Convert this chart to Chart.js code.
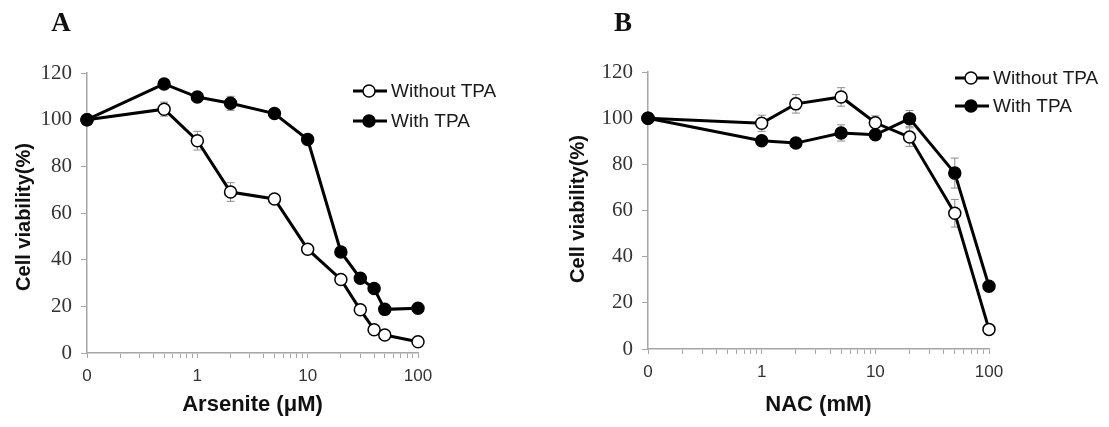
<!DOCTYPE html>
<html>
<head>
<meta charset="utf-8">
<script src="https://cdn.jsdelivr.net/npm/chart.js@4/dist/chart.umd.min.js"></script>
<style>
body{margin:0;background:#fff;width:1109px;height:427px;overflow:hidden;position:relative}
canvas{position:absolute;top:0}
</style>
</head>
<body>
<canvas id="chartA" width="555" height="427" style="left:0"></canvas>
<canvas id="chartB" width="554" height="427" style="left:555px"></canvas>
<script>
// panel A - arsenite
const arsDose = [0, 0.5, 1, 2, 5, 10, 20, 30, 40, 50, 100];
const arsWithout = [100, 104.5, 91, 69, 66, 44.5, 31.5, 18.5, 10, 7.7, 4.8];
const arsWithoutErr = [0, 3, 4, 4, 1, 1, 1, 1, 1, 1, 0.5];
const arsWith = [100, 115.3, 109.7, 107, 102.6, 91.5, 43.3, 32, 27.6, 18.7, 19.2];
const arsWithErr = [0, 1, 2, 3, 1, 1, 1, 1, 1, 1, 0.5];

// panel B - NAC
const nacDose = [0, 1, 2, 5, 10, 20, 50, 100];
const nacWithout = [100, 97.8, 106.2, 109.2, 98, 91.8, 58.8, 8.5];
const nacWithoutErr = [0, 3.5, 4, 4, 3, 4, 6, 1];
const nacWith = [100, 90.2, 89.2, 93.6, 92.8, 99.8, 76.2, 27.2];
const nacWithErr = [0, 2, 1.5, 3.5, 2, 3.5, 6.5, 1];

const seriesNames = ['Without TPA', 'With TPA'];
const xTickLabels = {0.1: '0', 1: '1', 10: '10', 100: '100'};
const ZERO_AT = 0.1; // dose 0 is drawn one decade left of 1

function logTicks() {
    const t = [];
    [0.1, 1, 10].forEach(d => {
        for (let k = 1; k <= 9; k++) t.push({value: +(k * d).toFixed(2)});
    });
    t.push({value: 100});
    return t;
}

function pts(xs, ys) {
    return xs.map((x, i) => ({x: x === 0 ? ZERO_AT : x, y: ys[i]}));
}

const errorBars = {
    id: 'errorBars',
    beforeDatasetsDraw(chart) {
        const ctx = chart.ctx, y = chart.scales.y;
        ctx.save();
        ctx.strokeStyle = '#8c8c8c';
        ctx.lineWidth = 1;
        chart.data.datasets.forEach((ds, i) => {
            const meta = chart.getDatasetMeta(i);
            meta.data.forEach((pt, j) => {
                const e = ds.err[j];
                if (!e) return;
                const v = ds.data[j].y;
                const top = y.getPixelForValue(v + e), bot = y.getPixelForValue(v - e);
                ctx.beginPath();
                ctx.moveTo(pt.x, top); ctx.lineTo(pt.x, bot);
                ctx.moveTo(pt.x - 4, top); ctx.lineTo(pt.x + 4, top);
                ctx.moveTo(pt.x - 4, bot); ctx.lineTo(pt.x + 4, bot);
                ctx.stroke();
            });
        });
        ctx.restore();
    }
};

const panelText = {
    id: 'panelText',
    afterDraw(chart, args, o) {
        const ctx = chart.ctx, a = chart.chartArea;
        ctx.save();
        ctx.fillStyle = '#111';
        ctx.textAlign = 'center';
        ctx.textBaseline = 'middle';
        ctx.font = 'bold 27px "Liberation Serif"';
        ctx.fillText(o.letter, o.letterX, 24);

        ctx.font = 'bold 22px "Liberation Sans"';
        ctx.fillText(o.xTitle, (a.left + a.right) / 2, 405);

        ctx.save();
        ctx.translate(o.yTitleX, o.yTitleY);
        ctx.rotate(-Math.PI / 2);
        ctx.font = 'bold 20px "Liberation Sans"';
        ctx.fillText('Cell viability(%)', 0, 0);
        ctx.restore();

        // legend
        ctx.textAlign = 'left';
        ctx.font = '19px "Liberation Sans"';
        [0, 1].forEach(i => {
            const ly = o.legY[i];
            ctx.strokeStyle = '#000';
            ctx.lineWidth = 3;
            ctx.beginPath();
            ctx.moveTo(o.legX, ly); ctx.lineTo(o.legX + 34, ly);
            ctx.stroke();
            ctx.beginPath();
            ctx.arc(o.legX + 16, ly, 6, 0, Math.PI * 2);
            ctx.fillStyle = i === 0 ? '#fff' : '#000';
            ctx.fill();
            ctx.lineWidth = 1.5;
            ctx.stroke();
            ctx.fillStyle = '#1a1a1a';
            ctx.fillText(seriesNames[i], o.legX + 38, ly + 1);
        });
        ctx.restore();
    }
};

function makeChart(id, dose, without, withoutErr, withT, withErr, pad, yW, xH, text) {
    const line = {borderColor: '#000', borderWidth: 3, pointRadius: 6, pointBorderWidth: 1.5,
        pointBorderColor: '#000', pointHoverRadius: 6, clip: false, tension: 0};
    return new Chart(document.getElementById(id), {
        type: 'line',
        data: {
            datasets: [
                Object.assign({label: seriesNames[0], data: pts(dose, without), err: withoutErr,
                    pointBackgroundColor: '#fff', order: 1}, line),
                Object.assign({label: seriesNames[1], data: pts(dose, withT), err: withErr,
                    pointBackgroundColor: '#000', order: 0}, line)
            ]
        },
        options: {
            responsive: false,
            animation: false,
            events: [],
            layout: {padding: pad},
            plugins: {legend: {display: false}, tooltip: {enabled: false}, panelText: text},
            scales: {
                x: {
                    type: 'logarithmic', min: ZERO_AT, max: 100,
                    afterBuildTicks: s => { s.ticks = logTicks(); },
                    afterFit: s => { s.height = xH; },
                    border: {color: '#a6a6a6', width: 1.5},
                    grid: {drawOnChartArea: false, drawTicks: true, tickLength: 5, color: '#a6a6a6', lineWidth: 1},
                    ticks: {
                        autoSkip: false, maxRotation: 0, padding: 8, color: '#333',
                        font: {family: 'Liberation Sans', size: 17},
                        callback: v => xTickLabels[v] || ''
                    }
                },
                y: {
                    min: 0, max: 120,
                    afterFit: s => { s.width = yW; },
                    border: {color: '#a6a6a6', width: 1.5},
                    grid: {drawOnChartArea: false, drawTicks: true, tickLength: 6, color: '#a6a6a6'},
                    ticks: {stepSize: 20, padding: 9, color: '#333',
                        font: {family: 'Liberation Serif', size: 21}}
                }
            }
        },
        plugins: [errorBars, panelText]
    });
}

makeChart('chartA', arsDose, arsWithout, arsWithoutErr, arsWith, arsWithErr,
    {left: 0, right: 137, top: 73, bottom: 0}, 87, 74,
    {letter: 'A', letterX: 61, xTitle: 'Arsenite (\u03bcM)', yTitleX: 24, yTitleY: 217,
        legX: 353, legY: [91, 121]});

makeChart('chartB', nacDose, nacWithout, nacWithoutErr, nacWith, nacWithErr,
    {left: 0, right: 120, top: 72, bottom: 0}, 93, 78,
    {letter: 'B', letterX: 68, xTitle: 'NAC (mM)', yTitleX: 23, yTitleY: 209,
        legX: 400, legY: [78, 106]});
</script>
</body>
</html>
